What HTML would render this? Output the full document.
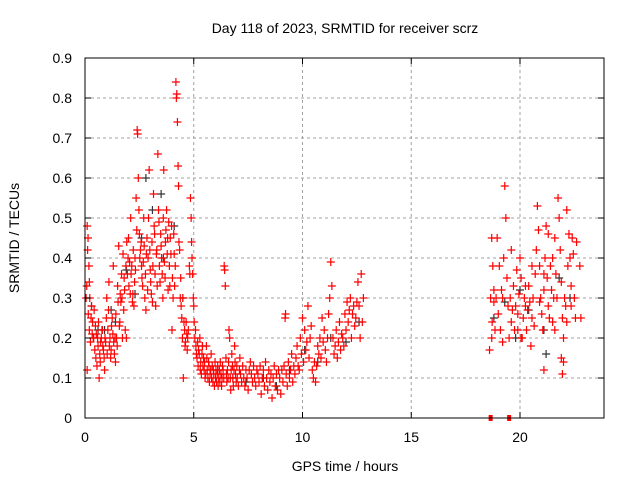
<!DOCTYPE html>
<html><head><meta charset="utf-8"><style>
body{margin:0;background:#fff}
svg text{font-family:"Liberation Sans",sans-serif;font-size:14px;fill:#000}
</style></head><body>
<svg id="chart" width="640" height="480" viewBox="0 0 640 480" xmlns="http://www.w3.org/2000/svg">
<rect width="640" height="480" fill="#fff"/>
<g id="grid"></g>
<g id="marks"></g>
<rect x="85" y="58" width="519" height="360" fill="none" stroke="#000" stroke-width="1"/>
<g id="axes"></g>
<text x="345" y="33" text-anchor="middle">Day 118 of 2023, SRMTID for receiver scrz</text>
<text x="345" y="471" text-anchor="middle">GPS time / hours</text>
<text x="19" y="238" text-anchor="middle" transform="rotate(-90 19 238)">SRMTID / TECUs</text>
</svg>
<script>
const xTicks=[0,5,10,15,20];
const yTicks=[0,0.1,0.2,0.3,0.4,0.5,0.6,0.7,0.8,0.9];
const yTickLabels=["0","0.1","0.2","0.3","0.4","0.5","0.6","0.7","0.8","0.9"];
const redPoints=[
[0.05,0.3],[0.08,0.33],[0.1,0.48],[0.12,0.42],[0.14,0.45],[0.15,0.26],[0.18,0.38],[0.2,0.22],[0.22,0.3],[0.25,0.19],[0.28,0.25],[0.3,0.28],[0.33,0.21],[0.35,0.24],[0.38,0.2],[0.4,0.2],[0.42,0.27],[0.45,0.17],[0.48,0.23],[0.5,0.15],[0.52,0.21],[0.55,0.13],[0.58,0.2],[0.6,0.18],[0.62,0.24],[0.65,0.1],[0.68,0.16],[0.7,0.14],[0.72,0.19],[0.75,0.2],[0.78,0.22],[0.8,0.22],[0.82,0.18],[0.85,0.17],[0.88,0.15],[0.9,0.12],[0.92,0.2],[0.95,0.19],[0.98,0.25],[1.0,0.3],[1.02,0.16],[1.05,0.22],[1.08,0.27],[1.1,0.34],[1.12,0.18],[1.15,0.2],[1.18,0.15],[1.2,0.17],[1.22,0.23],[1.25,0.25],[1.28,0.21],[1.3,0.38],[1.32,0.19],[1.35,0.16],[1.38,0.2],[1.4,0.14],[1.42,0.26],[1.45,0.2],[1.48,0.18],[1.5,0.33],[1.52,0.29],[1.55,0.43],[1.58,0.23],[1.6,0.24],[1.62,0.31],[1.65,0.29],[1.68,0.36],[1.7,0.3],[1.72,0.2],[1.75,0.41],[1.78,0.27],[1.8,0.35],[1.82,0.32],[1.85,0.22],[1.88,0.38],[1.9,0.2],[1.92,0.44],[1.95,0.36],[1.98,0.4],[2.0,0.45],[2.02,0.33],[2.05,0.39],[2.08,0.31],[2.1,0.5],[2.12,0.36],[2.15,0.38],[2.18,0.29],[2.2,0.31],[2.22,0.42],[2.25,0.28],[2.28,0.34],[2.3,0.4],[2.32,0.37],[2.35,0.55],[2.38,0.47],[2.4,0.72],[2.42,0.71],[2.45,0.6],[2.48,0.52],[2.5,0.46],[2.52,0.4],[2.55,0.42],[2.58,0.44],[2.6,0.38],[2.62,0.35],[2.65,0.33],[2.68,0.39],[2.7,0.5],[2.72,0.43],[2.75,0.3],[2.78,0.36],[2.8,0.27],[2.82,0.41],[2.85,0.45],[2.88,0.32],[2.9,0.4],[2.92,0.5],[2.95,0.62],[2.98,0.42],[3.0,0.37],[3.02,0.34],[3.05,0.31],[3.08,0.44],[3.1,0.29],[3.12,0.38],[3.15,0.56],[3.18,0.48],[3.2,0.46],[3.22,0.36],[3.25,0.28],[3.28,0.41],[3.3,0.42],[3.32,0.33],[3.35,0.66],[3.38,0.52],[3.4,0.49],[3.42,0.38],[3.45,0.34],[3.48,0.46],[3.5,0.43],[3.52,0.4],[3.55,0.36],[3.58,0.3],[3.6,0.5],[3.62,0.62],[3.65,0.39],[3.68,0.35],[3.7,0.44],[3.72,0.47],[3.75,0.52],[3.78,0.41],[3.8,0.45],[3.82,0.32],[3.85,0.49],[3.88,0.38],[3.9,0.33],[3.92,0.45],[3.95,0.41],[3.98,0.48],[4.0,0.22],[4.02,0.35],[4.05,0.3],[4.08,0.46],[4.1,0.41],[4.12,0.33],[4.15,0.38],[4.18,0.84],[4.2,0.8],[4.22,0.81],[4.25,0.74],[4.28,0.63],[4.3,0.58],[4.32,0.44],[4.35,0.42],[4.38,0.3],[4.4,0.35],[4.42,0.28],[4.45,0.25],[4.48,0.2],[4.5,0.3],[4.52,0.1],[4.55,0.24],[4.58,0.22],[4.6,0.18],[4.62,0.19],[4.65,0.24],[4.68,0.21],[4.7,0.17],[4.72,0.2],[4.75,0.22],[4.8,0.38],[4.82,0.36],[4.85,0.55],[4.88,0.5],[4.9,0.44],[4.92,0.4],[4.95,0.36],[4.98,0.3],[5.0,0.28],[5.02,0.24],[5.05,0.2],[5.08,0.22],[5.1,0.18],[5.12,0.16],[5.15,0.15],[5.18,0.19],[5.2,0.13],[5.22,0.17],[5.25,0.16],[5.28,0.2],[5.3,0.12],[5.32,0.14],[5.35,0.11],[5.38,0.16],[5.4,0.18],[5.42,0.13],[5.45,0.15],[5.48,0.12],[5.5,0.14],[5.52,0.1],[5.55,0.11],[5.58,0.18],[5.6,0.15],[5.62,0.12],[5.65,0.1],[5.68,0.14],[5.7,0.13],[5.72,0.09],[5.75,0.11],[5.78,0.12],[5.8,0.16],[5.82,0.1],[5.85,0.13],[5.88,0.09],[5.9,0.12],[5.92,0.11],[5.95,0.08],[5.98,0.14],[6.0,0.1],[6.02,0.12],[6.05,0.09],[6.08,0.11],[6.1,0.13],[6.12,0.08],[6.15,0.1],[6.18,0.12],[6.2,0.09],[6.22,0.14],[6.25,0.11],[6.28,0.08],[6.3,0.1],[6.32,0.13],[6.35,0.12],[6.38,0.1],[6.4,0.38],[6.42,0.37],[6.45,0.33],[6.48,0.15],[6.5,0.11],[6.52,0.09],[6.55,0.12],[6.58,0.1],[6.6,0.14],[6.62,0.22],[6.65,0.2],[6.68,0.1],[6.7,0.07],[6.72,0.12],[6.75,0.16],[6.78,0.13],[6.8,0.1],[6.82,0.08],[6.85,0.12],[6.88,0.18],[6.9,0.14],[6.92,0.11],[6.95,0.09],[6.98,0.13],[7.0,0.1],[7.05,0.08],[7.1,0.12],[7.12,0.15],[7.15,0.11],[7.2,0.09],[7.25,0.13],[7.3,0.1],[7.35,0.08],[7.4,0.12],[7.45,0.1],[7.5,0.07],[7.55,0.12],[7.6,0.14],[7.65,0.11],[7.7,0.09],[7.75,0.13],[7.8,0.1],[7.85,0.08],[7.9,0.12],[7.95,0.11],[8.0,0.09],[8.05,0.13],[8.1,0.06],[8.15,0.1],[8.2,0.12],[8.25,0.08],[8.3,0.14],[8.35,0.1],[8.4,0.07],[8.45,0.12],[8.5,0.09],[8.55,0.11],[8.6,0.05],[8.65,0.1],[8.7,0.13],[8.75,0.08],[8.8,0.11],[8.85,0.07],[8.9,0.12],[8.95,0.1],[9.0,0.06],[9.05,0.12],[9.1,0.09],[9.15,0.13],[9.2,0.25],[9.22,0.26],[9.25,0.11],[9.3,0.08],[9.35,0.14],[9.4,0.1],[9.45,0.12],[9.5,0.16],[9.55,0.09],[9.6,0.13],[9.65,0.11],[9.7,0.15],[9.75,0.18],[9.8,0.13],[9.85,0.12],[9.9,0.2],[9.95,0.16],[10.0,0.25],[10.05,0.14],[10.1,0.22],[10.15,0.17],[10.2,0.19],[10.25,0.28],[10.3,0.15],[10.35,0.2],[10.4,0.23],[10.45,0.12],[10.5,0.1],[10.55,0.14],[10.6,0.09],[10.65,0.13],[10.7,0.18],[10.75,0.16],[10.8,0.2],[10.85,0.15],[10.9,0.25],[10.95,0.19],[11.0,0.22],[11.05,0.17],[11.1,0.14],[11.15,0.2],[11.2,0.26],[11.25,0.3],[11.3,0.39],[11.35,0.33],[11.4,0.2],[11.45,0.16],[11.5,0.18],[11.55,0.22],[11.6,0.15],[11.65,0.19],[11.7,0.24],[11.75,0.17],[11.8,0.21],[11.85,0.2],[11.9,0.18],[11.95,0.26],[12.0,0.22],[12.05,0.29],[12.1,0.24],[12.15,0.27],[12.2,0.3],[12.25,0.2],[12.3,0.26],[12.35,0.28],[12.4,0.23],[12.45,0.25],[12.5,0.29],[12.55,0.34],[12.6,0.28],[12.65,0.2],[12.7,0.36],[12.75,0.24],[12.8,0.3],
[18.6,0.17],[18.65,0.3],[18.7,0.45],[18.72,0.24],[18.75,0.38],[18.8,0.32],[18.85,0.22],[18.9,0.3],[18.95,0.45],[19.0,0.26],[19.05,0.38],[19.1,0.22],[19.15,0.32],[19.2,0.3],[19.25,0.4],[19.3,0.58],[19.35,0.5],[19.4,0.35],[19.45,0.28],[19.5,0.2],[19.55,0.3],[19.6,0.24],[19.65,0.27],[19.7,0.33],[19.75,0.22],[19.8,0.28],[19.85,0.37],[19.9,0.26],[19.95,0.31],[20.0,0.4],[20.05,0.35],[20.1,0.2],[20.15,0.25],[20.2,0.3],[20.25,0.28],[20.3,0.22],[20.35,0.27],[20.4,0.33],[20.45,0.29],[20.5,0.18],[20.55,0.25],[20.6,0.3],[20.65,0.23],[20.7,0.36],[20.75,0.42],[20.8,0.53],[20.85,0.47],[20.9,0.38],[20.95,0.3],[21.0,0.26],[21.05,0.22],[21.1,0.32],[21.15,0.4],[21.2,0.48],[21.25,0.35],[21.3,0.28],[21.35,0.25],[21.4,0.38],[21.45,0.32],[21.5,0.4],[21.55,0.3],[21.6,0.22],[21.65,0.36],[21.7,0.3],[21.75,0.55],[21.8,0.5],[21.85,0.42],[21.9,0.34],[21.95,0.25],[22.0,0.2],[22.05,0.3],[22.1,0.28],[22.15,0.24],[22.2,0.38],[22.25,0.46],[22.3,0.4],[22.35,0.33],[22.4,0.45],[22.45,0.41],[22.5,0.3],[22.55,0.25],
[20.05,0.2],[20.25,0.33],[20.55,0.38],[20.9,0.29],[21.1,0.12],[21.3,0.46],[21.6,0.45],[21.9,0.15],[21.95,0.11],[22.15,0.52],[22.35,0.28],[22.6,0.44],[22.75,0.38],[22.8,0.25],[19.2,0.19],[18.7,0.2],[18.8,0.29],[19.6,0.42],[19.9,0.22],[22.0,0.14],[21.5,0.24],[21.1,0.36],[0.1,0.12],[0.2,0.34]
];
const zeroPoints=[[18.65,0],[19.5,0]];
const blackPoints=[[0.3,0.28],[0.9,0.22],[1.4,0.24],[1.9,0.37],[2.3,0.31],[2.6,0.45],[3.1,0.52],[3.6,0.4],[4.1,0.48],[4.5,0.3],[5.4,0.18],[6.1,0.12],[6.8,0.1],[7.4,0.09],[8.2,0.1],[8.8,0.08],[9.4,0.12],[10.1,0.17],[10.7,0.14],[11.3,0.2],[12.0,0.19],[12.6,0.24],[18.8,0.25],[19.3,0.29],[19.8,0.2],[20.4,0.27],[21.1,0.22],[21.8,0.35],[22.3,0.3],[1.2,0.27],[2.8,0.6],[3.5,0.56],[0.6,0.22],[21.2,0.16],[20.0,0.32]];
const X=h=>85+h*21.75, Y=v=>418-v*400;
const NS="http://www.w3.org/2000/svg";
const grid=document.getElementById('grid'),axes=document.getElementById('axes'),marks=document.getElementById('marks');
function mk(tag,attrs,parent){const e=document.createElementNS(NS,tag);for(const k in attrs)e.setAttribute(k,attrs[k]);parent.appendChild(e);return e;}
yTicks.forEach((t,i)=>{
  const y=Y(t);
  if(i>0&&i<yTicks.length-1){const g=mk('line',{x1:85,x2:604,y1:y,y2:y,stroke:'#a0a0a0','stroke-dasharray':'3,3'},grid);
  
  }
  mk('line',{x1:85,x2:91,y1:y,y2:y,stroke:'#000'},axes);
  mk('line',{x1:598,x2:604,y1:y,y2:y,stroke:'#000'},axes);
  const tx=mk('text',{x:72,y:y+5,'text-anchor':'end'},axes);tx.textContent=yTickLabels[i];
  
  
});
xTicks.forEach(t=>{
  const x=X(t);
  if(t>0){const g=mk('line',{x1:x,x2:x,y1:58,y2:418,stroke:'#a0a0a0','stroke-dasharray':'3,3'},grid);
  
  }
  mk('line',{x1:x,x2:x,y1:412,y2:418,stroke:'#000'},axes);
  mk('line',{x1:x,x2:x,y1:58,y2:64,stroke:'#000'},axes);
  const tx=mk('text',{x:x,y:442,'text-anchor':'middle'},axes);tx.textContent=String(t);
  
  
});
function plus(h,v,col,name){
  const x=X(h),y=Y(v);
  const p=mk('path',{d:`M${x-4},${y}H${x+4}M${x},${y-4}V${y+4}`,stroke:col,'stroke-width':1.2,fill:'none'},marks);
  
  
}
blackPoints.forEach(p=>plus(p[0],p[1],'#333','black-point'));
redPoints.forEach(p=>plus(p[0],p[1],'#ff0000','red-point'));
zeroPoints.forEach(p=>{
  const r=mk('rect',{x:X(p[0])-2,y:Y(p[1])-3,width:4,height:6,fill:'#ff0000'},marks);
  
  
});
</script>
</body></html>
